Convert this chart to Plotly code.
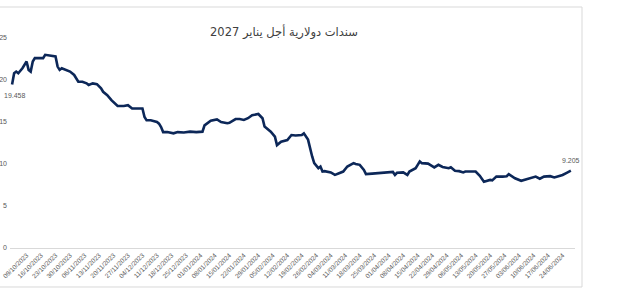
import plotly.graph_objects as go

title_text = "سندات دولارية أجل يناير 2027"

dates = [
    "2023-10-02", "2023-10-03", "2023-10-04", "2023-10-05", "2023-10-07", "2023-10-09",
    "2023-10-10", "2023-10-11", "2023-10-12", "2023-10-13", "2023-10-15", "2023-10-17",
    "2023-10-18", "2023-10-20", "2023-10-22", "2023-10-23", "2023-10-24", "2023-10-25",
    "2023-10-26", "2023-10-28", "2023-10-30", "2023-11-01", "2023-11-03", "2023-11-05",
    "2023-11-07", "2023-11-08", "2023-11-10", "2023-11-12", "2023-11-14", "2023-11-15",
    "2023-11-17", "2023-11-19", "2023-11-21", "2023-11-22", "2023-11-25", "2023-11-27",
    "2023-11-29", "2023-11-30", "2023-12-04", "2023-12-05", "2023-12-06", "2023-12-08",
    "2023-12-11", "2023-12-12", "2023-12-13", "2023-12-14", "2023-12-16", "2023-12-19",
    "2023-12-21", "2023-12-24", "2023-12-27", "2023-12-30", "2024-01-02", "2024-01-03",
    "2024-01-06", "2024-01-09", "2024-01-11", "2024-01-14", "2024-01-15", "2024-01-18",
    "2024-01-20", "2024-01-22", "2024-01-24", "2024-01-26", "2024-01-28", "2024-01-29",
    "2024-01-31", "2024-02-01", "2024-02-04", "2024-02-06", "2024-02-07", "2024-02-09",
    "2024-02-12", "2024-02-13", "2024-02-14", "2024-02-16", "2024-02-19", "2024-02-20",
    "2024-02-22", "2024-02-24", "2024-02-25", "2024-02-27", "2024-02-28", "2024-02-29",
    "2024-03-01", "2024-03-04", "2024-03-06", "2024-03-08", "2024-03-10", "2024-03-12",
    "2024-03-15", "2024-03-16", "2024-03-18", "2024-03-20", "2024-03-21", "2024-03-24",
    "2024-03-29", "2024-04-01", "2024-04-03", "2024-04-04", "2024-04-05", "2024-04-08",
    "2024-04-10", "2024-04-11", "2024-04-14", "2024-04-15", "2024-04-16", "2024-04-17",
    "2024-04-20", "2024-04-22", "2024-04-23", "2024-04-25", "2024-04-27", "2024-04-30",
    "2024-05-01", "2024-05-03", "2024-05-05", "2024-05-07", "2024-05-08", "2024-05-13",
    "2024-05-15", "2024-05-17", "2024-05-20", "2024-05-21", "2024-05-23", "2024-05-26",
    "2024-05-28", "2024-05-29", "2024-06-01", "2024-06-04", "2024-06-06", "2024-06-09",
    "2024-06-11", "2024-06-13", "2024-06-15", "2024-06-18", "2024-06-20", "2024-06-22",
    "2024-06-24", "2024-06-26", "2024-06-28",
]

values = [
    19.458, 20.8, 21.0, 20.8, 21.4, 22.2,
    21.2, 21.0, 22.2, 22.6, 22.6, 22.6,
    23.0, 22.9, 22.8, 22.8, 21.6, 21.2,
    21.4, 21.2, 21.0, 20.6, 19.8, 19.8,
    19.6, 19.4, 19.6, 19.5, 19.0, 18.6,
    18.2, 17.6, 17.2, 16.9, 16.9, 17.0,
    16.6, 16.6, 16.6, 15.6, 15.2, 15.2,
    15.0, 14.8, 14.4, 13.8, 13.8, 13.65,
    13.8, 13.75, 13.85, 13.8, 13.85, 14.6,
    15.15, 15.3, 15.0, 14.85, 14.9, 15.35,
    15.35, 15.25, 15.45, 15.8, 15.95, 15.95,
    15.45, 14.45, 13.85, 13.25, 12.25, 12.65,
    12.85, 13.2, 13.45, 13.4, 13.45, 13.65,
    12.9, 10.9, 10.1, 9.5, 9.7, 9.1,
    9.15, 9.0, 8.7, 8.9, 9.1, 9.7,
    10.1, 10.0, 9.9, 9.3, 8.8, 8.85,
    8.95, 9.0, 9.05, 8.7, 8.95, 9.0,
    8.7, 9.1, 9.5, 9.9, 10.3, 10.1,
    10.05, 9.75, 9.6, 9.9, 9.65, 9.5,
    9.6, 9.2, 9.15, 9.0, 9.1, 9.1,
    8.6, 7.9, 8.1, 8.05, 8.5, 8.5,
    8.55, 8.8, 8.3, 8.0, 8.15, 8.4,
    8.5, 8.25, 8.5, 8.55, 8.4, 8.55,
    8.7, 8.95, 9.205,
]

y_ticks = [0, 5, 10, 15, 20, 25]
x_ticks = [
    "2023-10-02", "2023-10-09", "2023-10-16", "2023-10-23", "2023-10-30", "2023-11-06",
    "2023-11-13", "2023-11-20", "2023-11-27", "2023-12-04", "2023-12-11", "2023-12-18",
    "2023-12-25", "2024-01-01", "2024-01-08", "2024-01-15", "2024-01-22", "2024-01-29",
    "2024-02-05", "2024-02-12", "2024-02-19", "2024-02-26", "2024-03-04", "2024-03-11",
    "2024-03-18", "2024-03-25", "2024-04-01", "2024-04-08", "2024-04-15", "2024-04-22",
    "2024-04-29", "2024-05-06", "2024-05-13", "2024-05-20", "2024-05-27", "2024-06-03",
    "2024-06-10", "2024-06-17", "2024-06-24",
]
x_tick_labels = ["/".join(reversed(d.split("-"))) for d in x_ticks]

label_color = "#595959"

fig = go.Figure()
fig.add_trace(go.Scatter(
    x=dates, y=values, mode="lines",
    line=dict(color="#0c2758", width=2.6, shape="linear"),
    hoverinfo="skip", showlegend=False,
))

fig.add_annotation(x=dates[0], y=values[0], text=f"{values[0]:.3f}", showarrow=False,
                   xref="x", yref="y", yshift=-11, xshift=3,
                   font=dict(size=7, color=label_color, family="Liberation Sans, Arial"))
fig.add_annotation(x=dates[-1], y=values[-1], text=f"{values[-1]:.3f}", showarrow=False,
                   xref="x", yref="y", yshift=10,
                   font=dict(size=7, color=label_color, family="Liberation Sans, Arial"))

fig.add_annotation(x=0.485, y=1.076, xref="paper", yref="paper", text=title_text,
                   showarrow=False,
                   font=dict(size=11.5, color="#404040", family="DejaVu Sans, Noto Sans"))

# chart-area border
fig.add_shape(type="rect", xref="paper", yref="paper",
              x0=-0.2, x1=1.0124, y0=-0.1857, y1=1.1476,
              line=dict(color="#d9d9d9", width=1), fillcolor="rgba(0,0,0,0)", layer="below")

fig.update_layout(
    width=622, height=289,
    margin=dict(l=10, r=47, t=38, b=41),
    paper_bgcolor="white", plot_bgcolor="white",
    font=dict(family="Liberation Sans, Arial", color=label_color),
)
fig.update_xaxes(
    type="date", range=["2023-10-01", "2024-06-30"],
    tickvals=x_ticks, ticktext=x_tick_labels, tickangle=-45,
    tickfont=dict(size=6.5, color=label_color),
    showgrid=False, zeroline=False, showline=True, linecolor="#d9d9d9", linewidth=1,
    ticks="", automargin=False,
)
fig.update_yaxes(
    range=[0, 25], tickvals=y_ticks, ticktext=[str(v) for v in y_ticks],
    tickfont=dict(size=7, color=label_color), ticklabelstandoff=2,
    showgrid=False, zeroline=False, showline=False, ticks="", automargin=False,
)

fig.write_html("out.html")
